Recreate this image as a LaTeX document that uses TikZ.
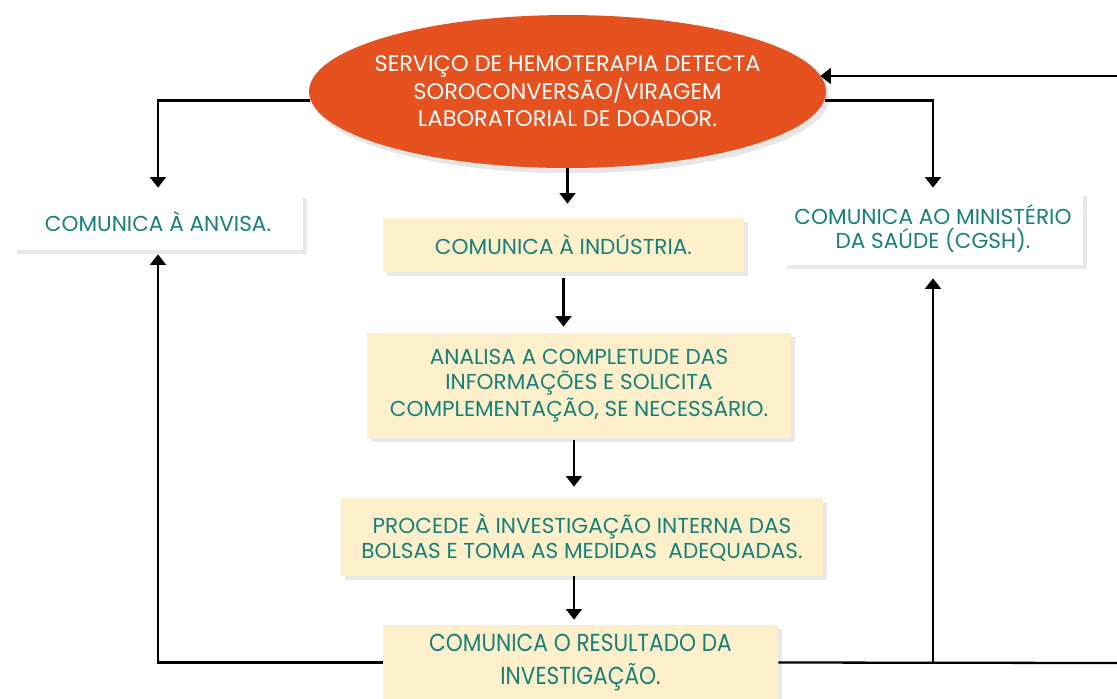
\documentclass[tikz,border=0pt]{standalone}
\usepackage{fontspec}
\setmainfont{Poppins}
\usetikzlibrary{shapes, arrows.meta, positioning, shadows}

\definecolor{hemored}{HTML}{E5511F}
\definecolor{creme}{HTML}{FDEFC9}
\definecolor{tealtext}{HTML}{17807A}

\begin{document}
\begin{tikzpicture}[x=0.02cm, y=-0.02cm,
        box/.style={rectangle, inner sep=2pt, align=center, text=tealtext, font=\fontsize{12.3}{14.2}\selectfont, drop shadow={shadow xshift=2.5pt, shadow yshift=-2.5pt, opacity=0.18}},
        whitebox/.style={box, fill=white},
        cremebox/.style={box, fill=creme},
        arrow/.style={-{Triangle[width=9pt, length=6pt]}, line width=1.3pt},
        line/.style={line width=1.3pt}
    ]
        \useasboundingbox (0,0) rectangle (1117,698);

        % Start
        \node[ellipse, fill=hemored, text=white, minimum width=10.34cm, minimum height=3.06cm, inner xsep=-14pt, inner ysep=0pt, align=center, font=\fontsize{12.8}{15.6}\selectfont, drop shadow={shadow xshift=2pt, shadow yshift=-3pt, opacity=0.2}] (hemo) at (567.5,91.5) {SERVIÇO DE HEMOTERAPIA DETECTA\\SOROCONVERSÃO/VIRAGEM\\LABORATORIAL DE DOADOR.};

        % Side boxes
        \node[whitebox, minimum width=5.8cm, minimum height=1.12cm] (anvisa) at (158,222) {COMUNICA À ANVISA.};
        \node[whitebox, minimum width=6cm, minimum height=1.46cm] (ministerio) at (933,228.5) {COMUNICA AO MINISTÉRIO\\DA SAÚDE (CGSH).};

        % Middle column
        \node[cremebox, minimum width=7.22cm, minimum height=1.08cm] (industria) at (563.5,245) {COMUNICA À INDÚSTRIA.};
        \node[cremebox, minimum width=8.48cm, minimum height=2.1cm] (analisa) at (579,385.5) {ANALISA A COMPLETUDE DAS\\INFORMAÇÕES E SOLICITA\\COMPLEMENTAÇÃO, SE NECESSÁRIO.};
        \node[cremebox, minimum width=9.64cm, minimum height=1.56cm] (procede) at (582,537) {PROCEDE À INVESTIGAÇÃO INTERNA DAS\\BOLSAS E TOMA AS MEDIDAS~~ADEQUADAS.};
        \node[cremebox, minimum width=7.9cm, minimum height=1.5cm, font=\fontsize{14}{18.5}\selectfont\addfontfeatures{FakeStretch=0.88}] (resultado) at (580.5,662.5) {COMUNICA O RESULTADO DA\\INVESTIGAÇÃO.};

        % Edge coordinates
        \coordinate (edgetop) at (1117,76);
        \coordinate (edgebottom) at (1117,663);

        % Arrows
        \draw[arrow, shorten >=0.12cm] (hemo.182) -| (anvisa.north);
        \draw[arrow, shorten >=0.08cm] (hemo.358) -| (ministerio.north);
        \draw[arrow, shorten >=-0.12cm] (edgetop) -- (hemo.east |- edgetop);
        \draw[arrow, shorten >=0.28cm] (hemo.south) -- (hemo.south |- industria.north);
        \draw[arrow, shorten <=0.12cm, shorten >=0.12cm] (industria.south) -- (industria.south |- analisa.north);
        \draw[arrow, shorten <=0.04cm, shorten >=0.22cm] ([xshift=-0.1cm]analisa.south) -- ([xshift=-0.1cm]analisa.south |- procede.north);
        \draw[arrow, shorten >=0.1cm] ([xshift=-0.16cm]procede.south) -- ([xshift=-0.16cm]procede.south |- resultado.north);
        \draw[arrow, shorten >=0.08cm] (resultado.west) -| (anvisa.south);
        \draw[line] (resultado.east) -- (edgebottom);
        \draw[arrow, shorten >=0.26cm] (ministerio.south |- resultado.east) -- (ministerio.south);
    \end{tikzpicture}
\end{document}
